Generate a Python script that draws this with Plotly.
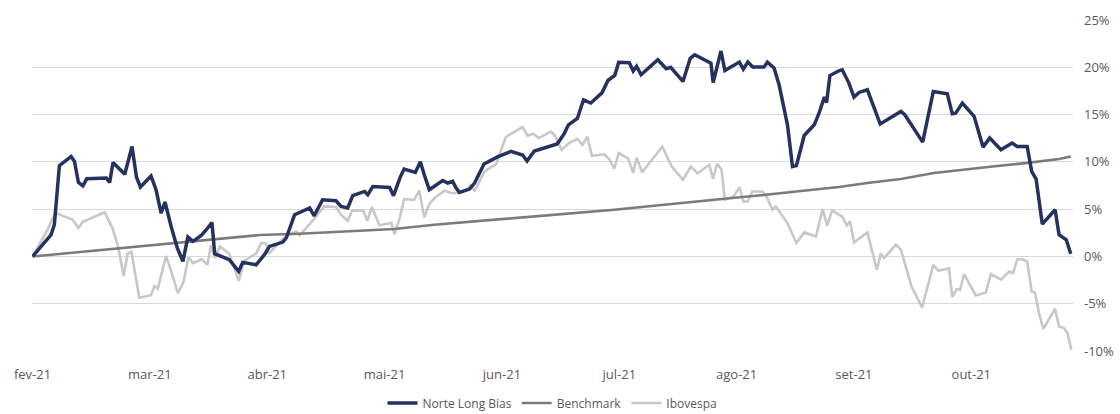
import plotly.graph_objects as go

# Trading-day index (21 trading days per month label) and cumulative return (%)
months = ["fev-21", "mar-21", "abr-21", "mai-21", "jun-21", "jul-21", "ago-21", "set-21", "out-21"]
days_per_month = 21

norte_x = [0, 2.1, 3.3, 3.9, 4.8, 6.9, 7.5, 8.2, 9.0, 9.7, 13.2, 13.8, 14.4, 16.5, 17.8, 18.6, 19.3, 21.2,
           22.1, 23.0, 23.7, 24.8, 25.9, 26.9, 27.8, 28.7, 30.2, 31.1, 32.1, 32.6, 33.5, 35.2, 36.9, 37.6,
           40.0, 41.5, 42.4, 44.8, 45.4, 46.9, 49.6, 50.4, 51.9, 54.3, 55.2, 56.4, 57.3, 59.4, 60.0, 60.9,
           63.9, 64.6, 65.8, 66.5, 68.5, 69.4, 70.1, 71.0, 73.4, 74.3, 75.2, 75.8, 76.4, 78.2, 79.1, 80.8,
           83.2, 85.6, 87.7, 88.5, 89.8, 93.9, 95.2, 95.9, 97.5, 98.6, 99.9, 101.9, 103.0, 104.2, 104.9,
           106.8, 107.5, 108.1, 108.9, 111.9, 113.4, 114.2, 116.4, 117.7, 118.5, 120.2, 121.4, 121.8, 123.2,
           123.9, 126.5, 127.2, 128.0, 128.9, 130.9, 131.5, 132.7, 133.6, 135.1, 136.0, 136.7, 138.1, 139.9,
           140.8, 141.7, 142.1, 142.7, 144.3, 144.9, 146.1, 147.0, 147.9, 149.4, 151.7, 154.8, 155.4, 156.1,
           159.3, 161.2, 163.7, 164.6, 165.2, 166.4, 168.5, 170.1, 171.3, 173.3, 175.3, 176.2, 178.0, 178.8,
           179.6, 180.7, 183.0, 183.7, 185.0, 185.8]
norte_y = [0.0, 1.42, 2.29, 3.35, 9.59, 10.57, 10.04, 7.84, 7.47, 8.21, 8.29, 7.82, 9.94, 8.69, 11.63, 8.37,
           7.34, 8.50, 7.05, 4.57, 5.75, 3.17, 0.89, -0.53, 2.05, 1.59, 2.22, 2.82, 3.59, 0.29, 0.07, -0.35,
           -1.59, -0.63, -0.88, 0.18, 1.06, 1.52, 1.95, 4.41, 5.12, 4.30, 5.99, 5.89, 5.29, 5.12, 6.42, 6.87,
           6.52, 7.40, 7.29, 6.42, 8.39, 9.24, 8.88, 10.01, 8.64, 7.05, 8.03, 7.76, 7.93, 7.23, 6.77, 7.12,
           7.76, 9.77, 10.52, 11.10, 10.72, 10.08, 11.15, 11.89, 13.04, 13.92, 14.59, 16.56, 16.22, 17.30,
           18.63, 19.15, 20.53, 20.48, 19.60, 20.11, 19.21, 20.79, 19.84, 20.00, 18.50, 20.95, 21.32, 20.79,
           20.44, 18.39, 21.72, 19.66, 20.55, 19.81, 20.55, 20.02, 20.02, 20.55, 19.92, 18.15, 13.92, 9.51,
           9.62, 12.79, 13.92, 15.22, 16.85, 16.28, 19.13, 19.63, 19.74, 18.33, 16.85, 17.34, 17.62, 14.00,
           15.08, 15.33, 14.98, 12.09, 17.44, 17.20, 15.08, 15.15, 16.22, 14.82, 11.56, 12.52, 11.28, 11.99,
           11.63, 11.63, 8.99, 8.18, 3.42, 4.94, 2.29, 1.76, 0.29]

bench_x = [0, 7.5, 16.5, 20.9, 28.7, 34.6, 40.6, 47.8, 55.8, 64.7, 71.9, 77.0, 85.9, 96.0, 104.1, 113.0,
           120.2, 125.2, 131.2, 137.2, 144.3, 149.4, 155.4, 161.3, 168.5, 171.8, 177.7, 183.7, 185.8]
bench_y = [0.0, 0.42, 0.89, 1.13, 1.59, 1.95, 2.26, 2.40, 2.64, 2.90, 3.35, 3.59, 4.06, 4.51, 4.94, 5.47,
           5.92, 6.17, 6.52, 6.87, 7.34, 7.76, 8.18, 8.82, 9.24, 9.51, 9.87, 10.30, 10.57]

ibov_x = [0, 2.7, 3.6, 4.2, 7.2, 8.2, 9.0, 12.9, 14.3, 15.3, 16.3, 17.0, 17.7, 19.1, 21.2, 21.8, 22.4, 23.9,
          25.1, 26.0, 27.0, 27.9, 28.7, 30.3, 31.3, 31.9, 32.7, 33.5, 35.2, 36.9, 37.9, 40.0, 40.9, 41.8,
          42.3, 44.8, 46.0, 47.2, 47.8, 50.1, 52.2, 54.3, 55.2, 56.4, 57.2, 59.2, 59.9, 60.7, 62.1, 64.2,
          64.8, 65.7, 66.5, 68.3, 69.2, 70.1, 71.0, 71.9, 73.7, 74.9, 76.1, 78.0, 78.4, 79.1, 80.9, 83.0,
          84.7, 87.7, 88.6, 89.6, 90.6, 92.8, 93.5, 94.7, 96.0, 97.5, 98.4, 99.3, 100.1, 102.3, 103.2, 104.1,
          104.9, 106.6, 107.5, 108.1, 109.1, 112.7, 114.4, 116.4, 117.8, 119.0, 121.1, 121.8, 122.5, 123.3,
          123.9, 125.5, 126.5, 127.2, 128.0, 128.8, 130.6, 131.5, 132.4, 133.0, 135.1, 136.7, 138.1, 140.2,
          141.4, 142.2, 143.1, 144.9, 145.7, 146.3, 147.0, 149.4, 151.1, 151.8, 152.4, 154.5, 155.4, 156.3,
          157.3, 159.2, 161.2, 162.1, 164.0, 164.6, 165.4, 166.0, 166.7, 168.8, 170.6, 171.5, 173.3, 174.8,
          175.5, 176.2, 176.9, 178.0, 178.8, 179.4, 180.1, 180.9, 183.0, 183.7, 184.6, 185.2, 185.9]
ibov_y = [0.0, 2.82, 4.06, 4.59, 3.88, 3.00, 3.67, 4.67, 3.00, 1.06, -2.07, 0.29, 0.47, -4.37, -4.10, -3.13,
          -3.41, 0.05, -2.11, -3.87, -2.73, -0.08, -0.70, -0.31, -0.88, 1.13, -0.17, 1.06, 0.29, -2.59,
          -0.48, 0.31, 1.42, 1.34, 0.29, 1.87, 2.35, 2.64, 2.24, 3.77, 5.29, 5.22, 4.41, 3.77, 4.86, 4.83,
          3.77, 5.22, 3.30, 3.53, 2.35, 4.06, 6.05, 5.99, 6.95, 4.14, 5.52, 6.17, 6.95, 6.70, 6.70, 7.12,
          7.63, 6.89, 8.99, 9.80, 12.65, 13.68, 12.76, 12.97, 12.52, 13.21, 12.76, 11.28, 11.99, 12.44,
          11.81, 12.65, 10.64, 10.80, 10.30, 9.27, 10.93, 10.35, 8.82, 10.43, 8.90, 11.60, 9.51, 8.11, 9.51,
          8.80, 9.69, 8.21, 9.80, 9.17, 5.99, 6.36, 7.32, 5.81, 5.81, 6.87, 6.87, 6.17, 4.94, 5.29, 3.53,
          1.42, 2.54, 2.11, 5.01, 3.25, 4.88, 4.20, 3.28, 3.70, 1.48, 2.54, -1.41, 0.29, -0.17, 1.24, 0.71,
          -1.06, -3.17, -5.39, -0.88, -1.51, -1.27, -4.29, -3.45, -3.52, -1.86, -4.12, -3.81, -1.86, -2.46,
          -1.59, -1.75, -0.35, -0.27, -0.53, -3.70, -3.81, -5.98, -7.67, -5.53, -7.40, -7.57, -8.10, -9.86]

y_ticks = [-10, -5, 0, 5, 10, 15, 20, 25]
y_tick_text = [f"{v}%" for v in y_ticks]

tick_vals = [i * days_per_month for i in range(len(months))]
y_min, y_max = min(y_ticks), max(y_ticks)

font_family = "Open Sans, Noto Sans, sans-serif"
label_color = "#595959"

fig = go.Figure()
fig.add_trace(go.Scatter(x=ibov_x, y=ibov_y, mode="lines", name="Ibovespa",
                         line=dict(color="#c8c8c8", width=2.6), legendrank=3))
fig.add_trace(go.Scatter(x=bench_x, y=bench_y, mode="lines", name="Benchmark",
                         line=dict(color="#7b7b7b", width=2.6), legendrank=2))
fig.add_trace(go.Scatter(x=norte_x, y=norte_y, mode="lines", name="Norte Long Bias",
                         line=dict(color="#25325f", width=3.5), legendrank=1))

fig.update_layout(
    width=1120, height=414,
    margin=dict(l=32, r=47, t=20, b=63, autoexpand=False),
    plot_bgcolor="white", paper_bgcolor="white",
    font=dict(family=font_family, color=label_color, size=13),
    showlegend=True,
    legend=dict(orientation="h", x=0.5, xanchor="center", y=-0.157, yanchor="middle",
                font=dict(size=12, color=label_color), itemwidth=30, traceorder="normal"),
    xaxis=dict(range=[-0.1, 186.2], tickmode="array", tickvals=tick_vals, ticktext=months,
               showgrid=False, zeroline=False, showline=False, ticks="", ticklabelstandoff=14,
               automargin=False, tickfont=dict(size=13, color=label_color)),
    xaxis2=dict(matches="x", overlaying="x", anchor="free",
                position=(0 - y_min) / (y_max - y_min), tickmode="array", tickvals=tick_vals,
                ticks="inside", ticklen=4, tickcolor="#d9d9d9", showticklabels=False,
                showgrid=False, zeroline=False, showline=False, automargin=False),
    yaxis=dict(range=[y_min, y_max], side="right", tickmode="array", tickvals=y_ticks,
               ticktext=y_tick_text, showgrid=True, gridcolor="#d9d9d9", gridwidth=1,
               zeroline=False, showline=False, ticks="", ticklabelstandoff=10, automargin=False,
               tickfont=dict(size=13, color=label_color)),
)

fig.write_html("out.html", config={"displayModeBar": False},
               post_script="document.body.style.margin='0';document.body.style.overflow='hidden';")
